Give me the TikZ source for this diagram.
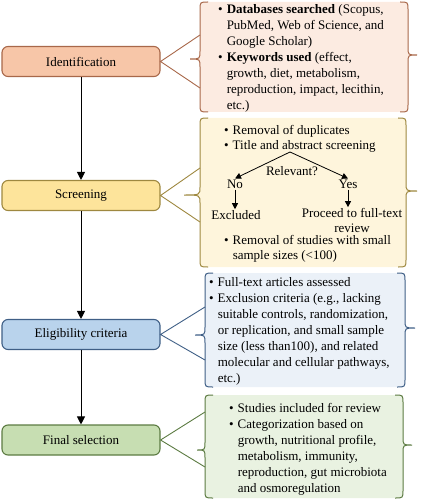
\documentclass[tikz,border=0pt]{standalone}
\usepackage{fontspec}
\setmainfont{Liberation Serif}
\usetikzlibrary{arrows.meta}
\definecolor{idF}{HTML}{F7C6A8}
\definecolor{idD}{HTML}{A8684A}
\definecolor{idS}{HTML}{FCEBE1}
\definecolor{scF}{HTML}{FDE49B}
\definecolor{scD}{HTML}{9E8840}
\definecolor{scS}{HTML}{FEF5DC}
\definecolor{elF}{HTML}{B9D3EC}
\definecolor{elD}{HTML}{3F5F86}
\definecolor{elS}{HTML}{EBF1F8}
\definecolor{fsF}{HTML}{C7DEB2}
\definecolor{fsD}{HTML}{5C7B42}
\definecolor{fsS}{HTML}{E9F2E1}
\newcommand{\sidepanel}[9]{%
 \fill[#9S] ({#1+8},#7) -- ({#4-8},#7) .. controls (#4,#7) .. (#4,{#7+8}) -- (#4,{#6-8}) .. controls (#4,#6) .. (#5,#6) .. controls (#4,#6) .. (#4,{#6+8}) -- (#4,{#8-8}) .. controls (#4,#8) .. ({#4-8},#8) -- ({#1+8},#8) .. controls (#1,#8) .. (#1,{#8-8}) -- (#1,{#3+8}) .. controls (#1,#3) .. (#2,#3) .. controls (#1,#3) .. (#1,{#3-8}) -- (#1,{#7+8}) .. controls (#1,#7) .. ({#1+8},#7) -- cycle;
 \draw[#9D, bracel] ({#1+8},#7) .. controls (#1,#7) .. (#1,{#7+8}) -- (#1,{#3-8}) .. controls (#1,#3) .. (#2,#3) .. controls (#1,#3) .. (#1,{#3+8}) -- (#1,{#8-8}) .. controls (#1,#8) .. ({#1+8},#8);
 \draw[#9D, bracel] ({#4-8},#7) .. controls (#4,#7) .. (#4,{#7+8}) -- (#4,{#6-8}) .. controls (#4,#6) .. (#5,#6) .. controls (#4,#6) .. (#4,{#6+8}) -- (#4,{#8-8}) .. controls (#4,#8) .. ({#4-8},#8);
}
\begin{document}
\begin{tikzpicture}[x=1pt,y=-1pt,
  bracel/.style={line width=1pt},
  mainbox/.style={rounded corners=6pt, minimum width=158pt, minimum height=30pt, line width=1.1pt, inner sep=0pt, font=\fontsize{13}{16}\selectfont},
  flowarrow/.style={line width=0.9pt, -{Triangle[width=8pt,length=8pt]}},
  smallarrow/.style={line width=0.8pt, -{Triangle[width=6pt,length=6pt]}},
  conn/.style={line width=0.9pt},
  txt/.style={anchor=base west, inner sep=0pt, font=\fontsize{13}{16}\selectfont},
  txtb/.style={anchor=base west, inner sep=0pt, font=\fontsize{13}{15}\selectfont},
  lbl/.style={inner sep=1pt, font=\fontsize{13}{15}\selectfont}]
\useasboundingbox (0,0) rectangle (423,500);

% side panels
\sidepanel{200}{190}{59}{408}{417}{55}{2}{112}{id}
\sidepanel{200}{184}{195}{406}{417}{191}{118}{267}{sc}
\sidepanel{205}{195}{335}{405}{415}{328}{273}{387}{el}
\sidepanel{205}{197}{450}{403}{412}{445}{395}{498}{fs}

% main boxes
\node[mainbox, fill=idF, draw=idD] (id) at (81,61.5) {Identification};
\node[mainbox, fill=scF, draw=scD] (sc) at (81,195.5) {Screening};
\node[mainbox, fill=elF, draw=elD] (el) at (81,334.5) {Eligibility criteria};
\node[mainbox, fill=fsF, draw=fsD] (fs) at (81,440) {Final selection};

\draw[flowarrow] (id.south) -- (sc.north);
\draw[flowarrow] (sc.south) -- (el.north);
\draw[flowarrow] (el.south) -- (fs.north);

% connectors to braces
\coordinate (c1a) at (200,35); \coordinate (c1b) at (200,88);
\coordinate (c2a) at (200,168); \coordinate (c2b) at (200,222);
\coordinate (c3a) at (205,307); \coordinate (c3b) at (205,360);
\coordinate (c4a) at (205,412); \coordinate (c4b) at (205,467);
\draw[conn, idD] (c1a) -- (id.east) -- (c1b);
\draw[conn, scD] (c2a) -- (sc.east) -- (c2b);
\draw[conn, elD] (c3a) -- (el.east) -- (c3b);
\draw[conn, fsD] (c4a) -- (fs.east) -- (c4b);

% texts
\node[txt] (t1) at (218,14) {\begin{tabular}[t]{@{}l@{\hspace{4pt}}l@{}}
\textbullet & \textbf{Databases searched} (Scopus,\\
& PubMed, Web of Science, and\\
& Google Scholar)\\
\textbullet & \textbf{Keywords used} (effect,\\
& growth, diet, metabolism,\\
& reproduction, impact, lecithin,\\
& etc.)
\end{tabular}};

\node[txtb] (t2a) at (224,134) {\begin{tabular}[t]{@{}l@{\hspace{4pt}}l@{}}
\textbullet & Removal of duplicates\\
\textbullet & Title and abstract screening
\end{tabular}};

\node[txtb] (t2b) at (224,244) {\begin{tabular}[t]{@{}l@{\hspace{4pt}}l@{}}
\textbullet & Removal of studies with small\\
& sample sizes (<100)
\end{tabular}};

\node[txt] (t3) at (209,286) {\begin{tabular}[t]{@{}l@{\hspace{4pt}}l@{}}
\textbullet & Full-text articles assessed\\
\textbullet & Exclusion criteria (e.g., lacking\\
& suitable controls, randomization,\\
& or replication, and small sample\\
& size (less than100), and related\\
& molecular and cellular pathways,\\
& etc.)
\end{tabular}};

\node[txt] (t4) at (229,412) {\begin{tabular}[t]{@{}l@{\hspace{4pt}}l@{}}
\textbullet & Studies included for review\\
\textbullet & Categorization based on\\
& growth, nutritional profile,\\
& metabolism, immunity,\\
& reproduction, gut microbiota\\
& and osmoregulation
\end{tabular}};

% relevance decision
\coordinate (apex) at (290,152);
\node[lbl] (rel) at (292,171) {Relevant?};
\node[lbl] (no) at (235,184) {No};
\node[lbl] (yes) at (348,184) {Yes};
\node[lbl] (excl) at (236,215) {Excluded};
\node[lbl, align=center] (proc) at (352,220.5) {Proceed to full-text\\review};
\draw[smallarrow] (apex) -- (no.north);
\draw[smallarrow] (apex) -- (yes.north);
\draw[smallarrow] (no.south) -- (no.south |- excl.north);
\draw[smallarrow] (yes.south) -- (yes.south |- proc.north);
\end{tikzpicture}
\end{document}
